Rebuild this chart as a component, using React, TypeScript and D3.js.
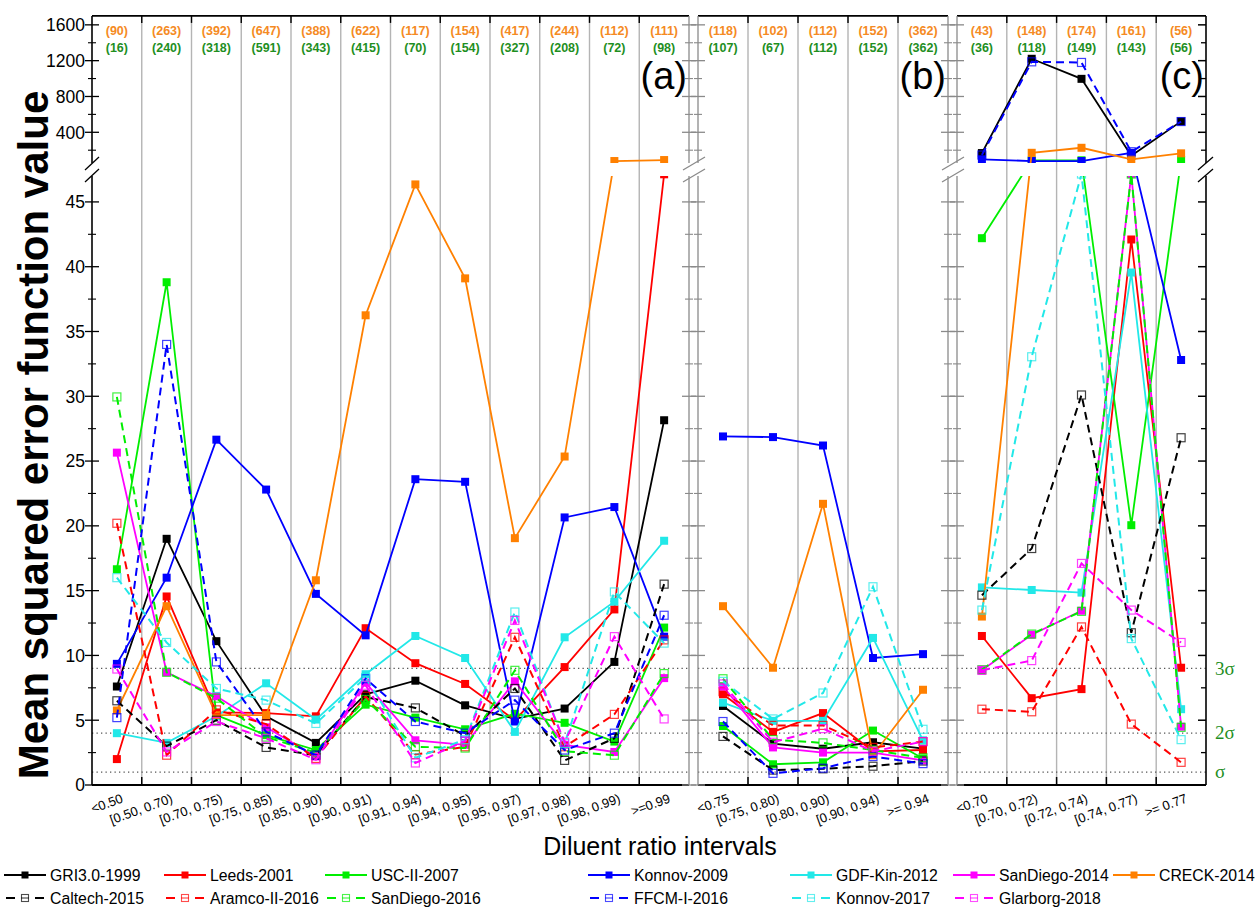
import React from "react";
import * as d3 from "d3";

const FONT = "'Liberation Sans', Arial, Helvetica, sans-serif";

// ---------- categories ----------
const catsA = ["<0.50", "[0.50, 0.70)", "[0.70, 0.75)", "[0.75, 0.85)", "[0.85, 0.90)", "[0.90, 0.91)", "[0.91, 0.94)", "[0.94, 0.95)", "[0.95, 0.97)", "[0.97, 0.98)", "[0.98, 0.99)", ">=0.99"];
const catsB = ["<0.75", "[0.75, 0.80)", "[0.80, 0.90)", "[0.90, 0.94)", ">= 0.94"];
const catsC = ["<0.70", "[0.70, 0.72)", "[0.72, 0.74)", "[0.74, 0.77)", ">= 0.77"];

// ---------- counts shown at top ----------
const countsOrangeA = [90, 263, 392, 647, 388, 622, 117, 154, 417, 244, 112, 111];
const countsGreenA = [16, 240, 318, 591, 343, 415, 70, 154, 327, 208, 72, 98];
const countsOrangeB = [118, 102, 112, 152, 362];
const countsGreenB = [107, 67, 112, 152, 362];
const countsOrangeC = [43, 148, 174, 161, 56];
const countsGreenC = [36, 118, 149, 143, 56];

// ---------- axis ticks ----------
const lowTicks = [0, 5, 10, 15, 20, 25, 30, 35, 40, 45];
const lowMinorTicks = [2.5, 7.5, 12.5, 17.5, 22.5, 27.5, 32.5, 37.5, 42.5];
const highTicks = [400, 800, 1200, 1600];
const highMinorTicks = [200, 600, 1000, 1400];
const sigmaLevels = [1, 4, 9];
const sigmaLabels = ["σ", "2σ", "3σ"];

// ---------- series (12 values panel a, 5 panel b, 5 panel c) ----------
const seriesNames = ["GRI3.0-1999", "Leeds-2001", "USC-II-2007", "Konnov-2009", "GDF-Kin-2012", "SanDiego-2014", "CRECK-2014", "Caltech-2015", "Aramco-II-2016", "SanDiego-2016", "FFCM-I-2016", "Konnov-2017", "Glarborg-2018"];
const seriesColors = ["#000000", "#ff0000", "#00ee00", "#0000ff", "#22e8e8", "#ff00ff", "#ff8000", "#000000", "#ff0000", "#00ee00", "#0000ff", "#22e8e8", "#ff00ff"];
const seriesDashed = [false, false, false, false, false, false, false, true, true, true, true, true, true];

const gri3_1999 = [7.6, 19.0, 11.1, 5.3, 3.25, 7.0, 8.05, 6.15, 5.1, 5.9, 9.5, 28.15, 6.1, 3.2, 2.8, 3.3, 2.8, 168, 1221, 997, 138, 522];
const leeds_2001 = [2.0, 14.55, 5.6, 5.55, 5.3, 12.1, 9.4, 7.8, 5.0, 9.1, 13.55, 48.3, 7.0, 4.1, 5.55, 2.6, 2.7, 11.5, 6.7, 7.4, 42.1, 9.05];
const uscII_2007 = [16.65, 38.8, 5.4, 3.85, 2.7, 6.2, 5.2, 4.3, 5.5, 4.8, 3.35, 12.15, 4.55, 1.6, 1.75, 4.2, 2.05, 42.2, 87, 87, 20.05, 90];
const konnov_2009 = [9.35, 16.0, 26.65, 22.8, 14.75, 11.55, 23.6, 23.4, 4.9, 20.65, 21.45, 11.45, 26.9, 26.85, 26.2, 9.8, 10.1, 98, 79, 79, 171, 32.8];
const gdfKin_2012 = [4.0, 3.25, 5.3, 7.85, 5.05, 8.55, 11.5, 9.8, 4.1, 11.4, 14.15, 18.85, 6.35, 4.95, 4.95, 11.35, 3.45, 15.25, 15.05, 14.85, 39.55, 5.85];
const sanDiego_2014 = [25.65, 8.7, 6.85, 4.45, 2.2, 7.9, 3.45, 3.1, 8.0, 3.1, 2.55, 8.25, 7.6, 2.9, 2.5, 2.5, 1.9, 8.85, 11.6, 13.45, 48.5, 4.5];
const creck_2014 = [5.75, 13.8, 5.4, 5.4, 15.8, 36.25, 46.35, 39.1, 19.05, 25.35, 79, 90, 13.8, 9.05, 21.7, 2.3, 7.35, 13.0, 171, 227, 98, 165];
const caltech_2015 = [6.5, 3.0, 5.0, 2.9, 2.3, 6.8, 5.95, 3.8, 7.45, 1.9, 3.6, 15.5, 3.75, 1.15, 1.25, 1.45, 1.85, 14.65, 18.25, 30.1, 11.75, 26.8];
const aramcoII_2016 = [20.2, 2.3, 5.8, 4.7, 2.05, 6.85, 2.35, 2.95, 11.4, 2.95, 5.45, 11.2, 7.2, 4.6, 4.6, 2.9, 3.35, 5.85, 5.65, 12.2, 4.7, 1.75];
const sanDiego_2016 = [29.95, 8.7, 6.7, 3.7, 2.5, 6.6, 2.95, 2.85, 8.85, 2.6, 2.3, 8.6, 8.2, 3.5, 3.25, 2.7, 2.1, 8.9, 11.65, 13.4, 48.5, 4.45];
const ffcmI_2016 = [5.2, 34.0, 9.5, 4.1, 2.3, 8.2, 4.9, 4.0, 6.55, 2.7, 4.0, 13.1, 4.9, 0.9, 1.3, 2.2, 1.65, 146, 1187, 1180, 183, 520];
const konnov_2017 = [16.0, 11.0, 7.45, 6.55, 4.75, 8.3, 2.1, 3.5, 13.35, 3.2, 14.9, 10.95, 8.0, 5.1, 7.1, 15.3, 4.3, 13.5, 33.05, 48.5, 11.3, 3.5];
const glarborg_2018 = [8.95, 2.55, 4.9, 3.6, 1.95, 7.7, 1.7, 3.4, 12.7, 3.3, 11.45, 5.1, 7.8, 3.3, 4.35, 2.6, 3.35, 8.85, 9.6, 17.1, 13.5, 11.0];

const seriesValues = [gri3_1999, leeds_2001, uscII_2007, konnov_2009, gdfKin_2012, sanDiego_2014, creck_2014, caltech_2015, aramcoII_2016, sanDiego_2016, ffcmI_2016, konnov_2017, glarborg_2018];

export default function App() {
  const W = 1257, H = 909;
  const yBottom = 785, yLowTop = 176, yHighBot = 163, yTop = 15.9;
  const lowMax = 47, highMin = 57, highMax = 1700;
  const yLow = d3.scaleLinear().domain([0, lowMax]).range([yBottom, yLowTop]);
  const yHigh = d3.scaleLinear().domain([highMin, highMax]).range([yHighBot, yTop]);
  const yGap = d3.scaleLinear().domain([lowMax, highMin]).range([yLowTop, yHighBot]);
  const yMap = (v: number) => (v <= lowMax ? yLow(v) : v >= highMin ? yHigh(v) : yGap(v));

  const panels = [
    { key: "a", cats: catsA, x0: 92, x1: 689, orange: countsOrangeA, green: countsGreenA, label: "(a)", start: 0, leftDark: true, rightDark: false },
    { key: "b", cats: catsB, x0: 698, x1: 948, orange: countsOrangeB, green: countsGreenB, label: "(b)", start: 12, leftDark: false, rightDark: false },
    { key: "c", cats: catsC, x0: 957, x1: 1206, orange: countsOrangeC, green: countsGreenC, label: "(c)", start: 17, leftDark: false, rightDark: true },
  ];

  const grayAxis = "#8a8a8a";
  const orangeTxt = "#f58a23";
  const greenTxt = "#1f8f1f";

  const vAxis = (x: number, dark: boolean, side: "cross" | "in-left", key: string) => {
    const col = dark ? "#000" : grayAxis;
    const maj = (y: number, i: string) =>
      side === "cross" ? (
        <line key={key + "M" + i} x1={x - 7} x2={x + 7} y1={y} y2={y} stroke={col} strokeWidth={1.3} />
      ) : (
        <line key={key + "M" + i} x1={x - 8} x2={x} y1={y} y2={y} stroke={col} strokeWidth={1.5} />
      );
    const min = (y: number, i: string) =>
      side === "cross" ? (
        <line key={key + "m" + i} x1={x - 4} x2={x + 4} y1={y} y2={y} stroke={col} strokeWidth={1.1} />
      ) : (
        <line key={key + "m" + i} x1={x - 5} x2={x} y1={y} y2={y} stroke={col} strokeWidth={1.3} />
      );
    return (
      <g key={key}>
        <line x1={x} x2={x} y1={yTop} y2={yHighBot} stroke={col} strokeWidth={dark ? 1.6 : 1.3} />
        <line x1={x} x2={x} y1={yLowTop} y2={yBottom} stroke={col} strokeWidth={dark ? 1.6 : 1.3} />
        {lowTicks.map((t) => maj(yLow(t), "l" + t))}
        {lowMinorTicks.map((t) => min(yLow(t), "l" + t))}
        {highTicks.map((t) => maj(yHigh(t), "h" + t))}
        {highMinorTicks.map((t) => min(yHigh(t), "h" + t))}
      </g>
    );
  };

  const breakMarks = (xa: number, xb: number, col: string, key: string) => (
    <g key={key}>
      {[yHighBot + 0.5, yLowTop - 0.5].map((y, i) => (
        <line key={i} x1={xa} y1={y + 6.5} x2={xb} y2={y - 6.5} stroke={col} strokeWidth={1.3} />
      ))}
    </g>
  );

  const legendX = [4, 164, 325, 588, 790, 953, 1113];

  return (
    <svg width={W} height={H} style={{ position: "absolute", left: 0, top: 0, background: "#fff" }} fontFamily={FONT}>
      <rect x={0} y={0} width={W} height={H} fill="#fff" />
      <defs>
        {panels.map((p) => (
          <React.Fragment key={p.key}>
            <clipPath id={"low-" + p.key}>
              <rect x={p.x0 - 6} y={yLowTop} width={p.x1 - p.x0 + 12} height={yBottom - yLowTop + 6} />
            </clipPath>
            <clipPath id={"high-" + p.key}>
              <rect x={p.x0 - 6} y={yTop - 6} width={p.x1 - p.x0 + 12} height={yHighBot - yTop + 6} />
            </clipPath>
          </React.Fragment>
        ))}
      </defs>

      {panels.map((p) => {
        const xs = d3.scaleBand<string>().domain(p.cats).range([p.x0, p.x1]).paddingInner(0).paddingOuter(0);
        const cx = (c: string) => (xs(c) as number) + xs.bandwidth() / 2;
        const bounds = p.cats.slice(1).map((c) => xs(c) as number);
        return (
          <g key={p.key}>
            {bounds.map((b, i) => (
              <line key={"g" + i} x1={b} x2={b} y1={yTop} y2={yBottom} stroke="#b4b4b4" strokeWidth={1.4} />
            ))}
            {sigmaLevels.map((s) => (
              <line key={"s" + s} x1={p.x0} x2={p.x1} y1={yLow(s)} y2={yLow(s)} stroke="#555" strokeWidth={1.3} strokeDasharray="1.3,3.2" />
            ))}
            {["low", "high"].map((seg) => (
              <g key={seg} clipPath={`url(#${seg}-${p.key})`}>
                {seriesValues.map((vals, si) => {
                  const pv = vals.slice(p.start, p.start + p.cats.length);
                  const pts: [number, number][] = pv.map((v, i) => [cx(p.cats[i]), yMap(v)]);
                  const line = d3.line()(pts) as string;
                  const col = seriesColors[si];
                  const dashed = seriesDashed[si];
                  return (
                    <g key={si}>
                      <path d={line} fill="none" stroke={col} strokeWidth={dashed ? 2 : 1.8} strokeDasharray={dashed ? "8,5" : undefined} />
                      {pts.map(([x, y], i) =>
                        dashed ? (
                          <rect key={i} x={x - 4} y={y - 4} width={8} height={8} fill="none" stroke={col} strokeOpacity={0.75} strokeWidth={1.2} />
                        ) : (
                          <rect key={i} x={x - 4} y={y - 4} width={8} height={8} fill={col} />
                        )
                      )}
                    </g>
                  );
                })}
              </g>
            ))}
            <line x1={p.x0} x2={p.x1} y1={yTop} y2={yTop} stroke="#000" strokeWidth={1.6} />
            {bounds.map((b, i) => (
              <line key={"tt" + i} x1={b} x2={b} y1={yTop} y2={yTop + 7} stroke="#000" strokeWidth={1.4} />
            ))}
            <line x1={p.x0} x2={p.x1} y1={yBottom} y2={yBottom} stroke="#000" strokeWidth={1.8} />
            {bounds.map((b, i) => (
              <line key={"bt" + i} x1={b} x2={b} y1={yBottom - 8} y2={yBottom} stroke="#000" strokeWidth={1.5} />
            ))}
            {vAxis(p.x0, p.leftDark, "cross", "L" + p.key)}
            {vAxis(p.x1, p.rightDark, p.rightDark ? "in-left" : "cross", "R" + p.key)}
            {p.cats.map((c) => (
              <text key={"xl" + c} transform={`translate(${cx(c) + 7},${yBottom + 17}) rotate(-20)`} textAnchor="end" fontSize={13} fill="#000">
                {c}
              </text>
            ))}
            {p.cats.map((c, i) => (
              <g key={"cnt" + c}>
                <text x={cx(c)} y={34.5} textAnchor="middle" fontSize={12.5} fontWeight="bold" fill={orangeTxt}>
                  ({p.orange[i]})
                </text>
                <text x={cx(c)} y={51.5} textAnchor="middle" fontSize={12.5} fontWeight="bold" fill={greenTxt}>
                  ({p.green[i]})
                </text>
              </g>
            ))}
            <text x={p.x1 - 2} y={89} textAnchor="end" fontSize={38} fill="#000">
              {p.label}
            </text>
          </g>
        );
      })}

      {breakMarks(85, 99, "#000", "bk0")}
      {breakMarks(683, 705, grayAxis, "bk1")}
      {breakMarks(942, 964, grayAxis, "bk2")}
      {breakMarks(1198, 1213, "#000", "bk3")}

      {lowTicks.map((t) => (
        <text key={"yl" + t} x={85} y={yLow(t)} dy="0.36em" textAnchor="end" fontSize={17.5} fill="#000">
          {t}
        </text>
      ))}
      {highTicks.map((t) => (
        <text key={"yh" + t} x={85} y={yHigh(t)} dy="0.36em" textAnchor="end" fontSize={17.5} fill="#000">
          {t}
        </text>
      ))}

      {sigmaLevels.map((s, i) => (
        <text key={"sl" + s} x={1215} y={yLow(s)} dy="0.33em" fontSize={19} fill={greenTxt} fontFamily="'Liberation Serif', 'Times New Roman', serif">
          {sigmaLabels[i]}
        </text>
      ))}

      <text transform="translate(48,435) rotate(-90)" textAnchor="middle" fontSize={42} fontWeight="bold" fill="#000">
        Mean squared error function value
      </text>
      <text x={660} y={855} textAnchor="middle" fontSize={25} fill="#000">
        Diluent ratio intervals
      </text>

      {seriesNames.map((name, i) => {
        const row = i < 7 ? 0 : 1;
        const col = row === 0 ? i : i - 7;
        const x = legendX[col];
        const y = row === 0 ? 875 : 898;
        const c = seriesColors[i];
        const dashed = seriesDashed[i];
        return (
          <g key={"lg" + i}>
            {dashed ? (
              <>
                <line x1={x + 2} x2={x + 11} y1={y} y2={y} stroke={c} strokeWidth={2} />
                <line x1={x + 31} x2={x + 40} y1={y} y2={y} stroke={c} strokeWidth={2} />
                <line x1={x + 17} x2={x + 25} y1={y} y2={y} stroke={c} strokeWidth={1.2} strokeOpacity={0.7} />
                <rect x={x + 17.5} y={y - 3.5} width={7} height={7} fill="none" stroke={c} strokeOpacity={0.7} strokeWidth={1.1} />
              </>
            ) : (
              <>
                <line x1={x} x2={x + 42} y1={y} y2={y} stroke={c} strokeWidth={2} />
                <rect x={x + 17.5} y={y - 3.5} width={7} height={7} fill={c} />
              </>
            )}
            <text x={x + 46} y={y} dy="0.36em" fontSize={15.8} fill="#000">
              {name}
            </text>
          </g>
        );
      })}
    </svg>
  );
}
